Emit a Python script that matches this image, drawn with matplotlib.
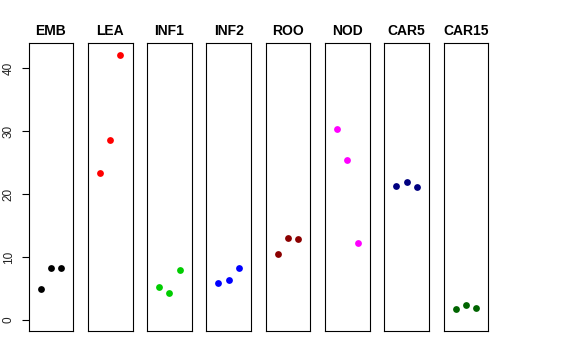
import numpy as np
import matplotlib
matplotlib.use("Agg")
import matplotlib.pyplot as plt

plt.rcParams["font.family"] = ["Liberation Sans", "DejaVu Sans"]

groups = ["EMB", "LEA", "INF1", "INF2", "ROO", "NOD", "CAR5", "CAR15"]
colors = ["black", "red", "#00CD00", "blue", "#8B0000", "magenta", "#000080", "#006400"]
values = [
    [5.0, 8.2, 8.3],
    [23.3, 28.6, 42.2],
    [5.2, 4.3, 8.0],
    [5.9, 6.3, 8.3],
    [10.5, 13.0, 12.9],
    [30.4, 25.4, 12.2],
    [21.3, 21.9, 21.2],
    [1.7, 2.4, 1.95],
]
yticks = [0, 10, 20, 30, 40]

W, H = 576, 360
fig = plt.figure(figsize=(W / 100, H / 100), dpi=100)

ylim = (-1.7, 44.0)
bottom = (H - 330.7) / H
height = (330.7 - 43.3) / H

for i, (name, col, vals) in enumerate(zip(groups, colors, values)):
    left = (28.5 + i * 59.3) / W
    ax = fig.add_axes([left, bottom, 44.7 / W, height])
    ax.scatter([1, 2, 3], vals, color=col, s=24, linewidths=0, zorder=3)
    ax.set_xlim(-0.16, 4.16)
    ax.set_ylim(*ylim)
    ax.set_xticks([])
    if i == 0:
        ax.set_yticks(yticks)
        ax.set_yticklabels([str(t) for t in yticks], rotation=90, va="center",
                           fontsize=8.5, color="#222222")
        ax.tick_params(axis="y", length=5, width=0.8, pad=5)
    else:
        ax.set_yticks([])
    for sp in ax.spines.values():
        sp.set_linewidth(0.8)
        sp.set_color("black")
    ax.set_title(name, fontsize=10, fontweight="bold", pad=6)

fig.savefig("out.png", dpi=100)
